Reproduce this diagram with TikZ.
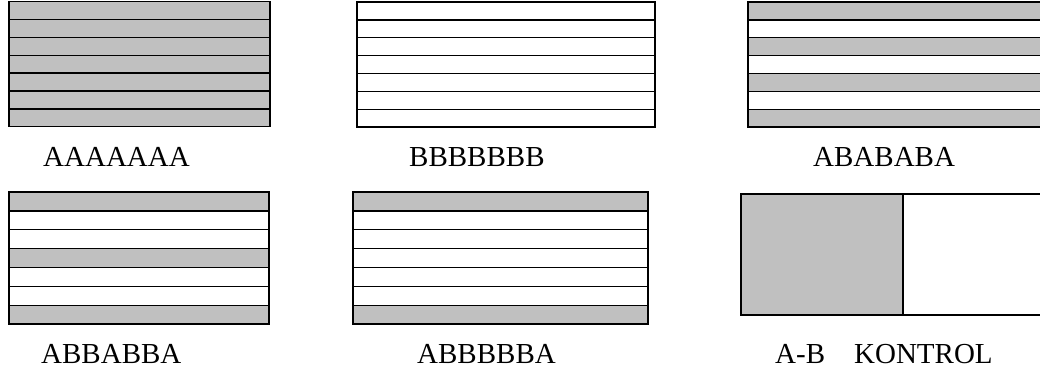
\documentclass[tikz,border=0pt]{standalone}
\usepackage{fontspec}
\setmainfont{Liberation Serif}
\usepackage{tikz}
\definecolor{griA}{HTML}{C0C0C0}

\begin{document}
\begin{tikzpicture}[x=1pt,y=-1pt,
  stripeA/.style={draw=black,fill=griA,line width=1.3pt},
  stripeB/.style={draw=black,fill=white,line width=1.3pt},
  etiket/.style={anchor=base west,inner sep=0pt,font=\fontsize{29}{35}\selectfont}]
  \clip (0,0) rectangle (1040,373);

  % ust sira
  \foreach \s [count=\i from 0] in {A,A,A,A,A,A,A}
    \draw[stripe\s] (9,1.7+\i*17.86) rectangle ++(261,17.86);
  \foreach \s [count=\i from 0] in {B,B,B,B,B,B,B}
    \draw[stripe\s] (357,2+\i*17.86) rectangle ++(298,17.86);
  \foreach \s [count=\i from 0] in {A,B,A,B,A,B,A}
    \draw[stripe\s] (748,2+\i*17.86) rectangle ++(296,17.86);

  % alt sira
  \foreach \s [count=\i from 0] in {A,B,B,A,B,B,A}
    \draw[stripe\s] (9,192+\i*18.86) rectangle ++(260,18.86);
  \foreach \s [count=\i from 0] in {A,B,B,B,B,B,A}
    \draw[stripe\s] (353,192+\i*18.86) rectangle ++(295,18.86);

  % kontrol
  \draw[stripeA] (741,194) rectangle (903,315);
  \draw[stripeB] (903,194) rectangle (1044,315);

  % etiketler
  \node[etiket] (lA) at (43,166) {AAAAAAA};
  \node[etiket] (lB) at (409,166) {BBBBBBB};
  \node[etiket] (lAB) at (813,166) {ABABABA};
  \node[etiket] (lABBA) at (41,363) {ABBABBA};
  \node[etiket] (lABBBBBA) at (417,363) {ABBBBBA};
  \node[etiket] (lK) at (775,363) {A-B\quad KONTROL};
\end{tikzpicture}
\end{document}
